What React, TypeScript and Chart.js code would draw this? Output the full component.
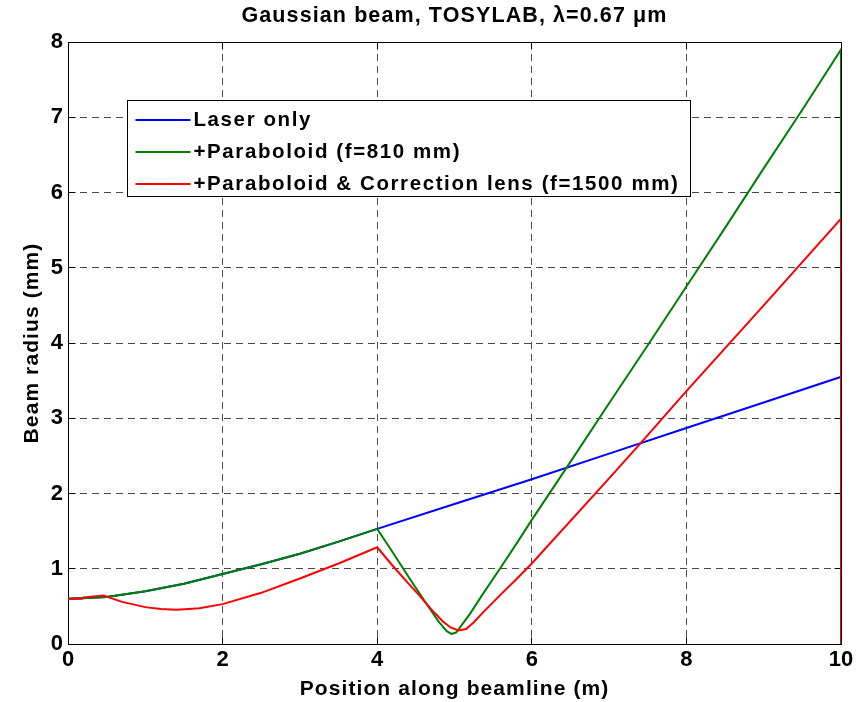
import React, { useEffect, useRef } from "react";
import { Chart, registerables } from "chart.js";

Chart.register(...registerables);

// ---- Data ----
const laserX = [0, 0.25, 0.5, 1, 1.5, 2, 2.5, 3, 3.5, 4, 5, 6, 7, 8, 9, 10, 10];
const laserY = [0.6, 0.61, 0.625, 0.7, 0.8, 0.93, 1.06, 1.2, 1.36, 1.53, 1.86, 2.19, 2.53, 2.87, 3.21, 3.55, 0];

const paraX = [0, 0.25, 0.5, 1, 1.5, 2, 2.5, 3, 3.5, 4, 4.2, 4.4, 4.6, 4.8, 4.9, 4.96, 5.02, 5.1, 5.2, 5.37, 5.6, 5.8, 6, 6.5, 7, 7.5, 8, 8.5, 9, 9.5, 10, 10];
const paraY = [0.6, 0.61, 0.625, 0.7, 0.8, 0.93, 1.06, 1.2, 1.36, 1.53, 1.22, 0.9, 0.59, 0.29, 0.17, 0.135, 0.15, 0.26, 0.4, 0.67, 1.02, 1.33, 1.65, 2.42, 3.2, 3.97, 4.75, 5.53, 6.32, 7.1, 7.9, 0];

const corrX = [0, 0.18, 0.2, 0.46, 0.7, 1.0, 1.2, 1.41, 1.7, 2, 2.5, 3, 3.5, 4, 4.2, 4.4, 4.55, 4.7, 4.85, 4.95, 5.05, 5.15, 5.25, 5.37, 5.6, 5.8, 6, 7, 7.4, 8, 9, 10, 10];
const corrY = [0.6, 0.6, 0.62, 0.645, 0.56, 0.49, 0.465, 0.455, 0.475, 0.53, 0.68, 0.87, 1.07, 1.285, 1.04, 0.81, 0.64, 0.46, 0.3, 0.22, 0.18, 0.2, 0.29, 0.42, 0.66, 0.86, 1.07, 2.2, 2.66, 3.36, 4.5, 5.65, 0];

const seriesLabels = ["Laser only", "+Paraboloid (f=810 mm)", "+Paraboloid & Correction lens (f=1500 mm)"];
const seriesColors = ["#0000ff", "#008000", "#ff0000"];

const xTicks = [0, 2, 4, 6, 8, 10];
const yTicks = [0, 1, 2, 3, 4, 5, 6, 7, 8];

const titleText = "Gaussian beam, TOSYLAB, \u03bb=0.67 \u03bcm";
const xLabel = "Position along beamline (m)";
const yLabel = "Beam radius (mm)";

const FONT = '"Liberation Sans", Arial, Helvetica, sans-serif';

const toPoints = (xs: number[], ys: number[]) => xs.map((x, i) => ({ x, y: ys[i] }));

const align = (p: number) => Math.round(p - 0.5) + 0.5;

const matlabPlugin = {
  id: "matlabStyle",
  beforeDraw(chart: any) {
    chart.ctx.letterSpacing = "1.1px";
  },
  beforeDatasetsDraw(chart: any) {
    const ctx = chart.ctx;
    ctx.letterSpacing = "0px";
    const { left, right, top, bottom } = chart.chartArea;
    const l = align(left), r = align(right), t = align(top), b = align(bottom);
    ctx.save();
    ctx.setLineDash([]);
    ctx.strokeStyle = "#000";
    ctx.lineWidth = 1;
    ctx.strokeRect(l, t, r - l, b - t);
    const xs = chart.scales.x;
    const ys = chart.scales.y;
    const tl = 7;
    ctx.beginPath();
    xs.ticks.forEach((tk: any) => {
      const px = align(xs.getPixelForValue(tk.value));
      ctx.moveTo(px, b); ctx.lineTo(px, b - tl);
      ctx.moveTo(px, t); ctx.lineTo(px, t + tl);
    });
    ys.ticks.forEach((tk: any) => {
      const py = align(ys.getPixelForValue(tk.value));
      ctx.moveTo(l, py); ctx.lineTo(l + tl, py);
      ctx.moveTo(r, py); ctx.lineTo(r - tl, py);
    });
    ctx.stroke();
    ctx.restore();
  },
  afterDraw(chart: any) {
    const ctx = chart.ctx;
    const { left, top } = chart.chartArea;
    ctx.save();
    const bx = align(left + 59);
    const by = align(top + 58.5);
    const bw = 563;
    const bh = 96;
    ctx.setLineDash([]);
    ctx.fillStyle = "#fff";
    ctx.fillRect(bx, by, bw, bh);
    ctx.strokeStyle = "#000";
    ctx.lineWidth = 1;
    ctx.strokeRect(bx, by, bw, bh);
    ctx.font = `bold 20.5px ${FONT}`;
    ctx.textBaseline = "middle";
    ctx.textAlign = "left";
    ctx.letterSpacing = "1.6px";
    chart.data.datasets.forEach((ds: any, i: number) => {
      const cy = by + 19.5 + i * 32;
      ctx.strokeStyle = ds.borderColor;
      ctx.lineWidth = 2;
      ctx.beginPath();
      ctx.moveTo(bx + 8, cy);
      ctx.lineTo(bx + 63, cy);
      ctx.stroke();
      ctx.fillStyle = "#000";
      ctx.fillText(ds.label, bx + 66, cy + 0.5);
    });
    ctx.letterSpacing = "0px";
    ctx.restore();
  },
};

export default function App() {
  const canvasRef = useRef<HTMLCanvasElement | null>(null);

  useEffect(() => {
    if (!canvasRef.current) return;
    const datasets = [
      { x: laserX, y: laserY },
      { x: paraX, y: paraY },
      { x: corrX, y: corrY },
    ].map((s, i) => ({
      label: seriesLabels[i],
      data: toPoints(s.x, s.y),
      borderColor: seriesColors[i],
      backgroundColor: seriesColors[i],
      borderWidth: 2,
      pointRadius: 0,
      tension: 0,
      fill: false,
      order: 3 - i,
    }));

    const chart = new Chart(canvasRef.current, {
      type: "line",
      data: { datasets },
      plugins: [matlabPlugin],
      options: {
        responsive: false,
        animation: false,
        devicePixelRatio: 1,
        layout: { padding: { left: 0, right: 25, top: 0, bottom: 0 } },
        plugins: {
          legend: { display: false },
          tooltip: { enabled: false },
          title: {
            display: true,
            text: titleText,
            color: "#000",
            fullSize: false,
            font: { family: FONT, size: 21.5, weight: "bold" },
            padding: { top: 3.5, bottom: 12.7 },
          },
        },
        scales: {
          x: {
            type: "linear",
            min: xTicks[0],
            max: xTicks[xTicks.length - 1],
            afterBuildTicks: (scale: any) => {
              scale.ticks = xTicks.map((v) => ({ value: v }));
            },
            afterFit: (scale: any) => {
              scale.height = 58;
            },
            grid: { color: "#4a4a4a", lineWidth: 1, drawTicks: false },
            border: { display: false, dash: [7, 5] },
            ticks: {
              z: 1,
              color: "#000",
              padding: 3,
              maxRotation: 0,
              autoSkip: false,
              font: { family: FONT, size: 22, weight: "bold" },
            },
            title: {
              display: true,
              text: xLabel,
              color: "#000",
              font: { family: FONT, size: 21, weight: "bold" },
              padding: { top: 0, bottom: 0.4 },
            },
          },
          y: {
            type: "linear",
            min: yTicks[0],
            max: yTicks[yTicks.length - 1],
            afterBuildTicks: (scale: any) => {
              scale.ticks = yTicks.map((v) => ({ value: v }));
            },
            afterFit: (scale: any) => {
              scale.width = 68;
            },
            grid: { color: "#4a4a4a", lineWidth: 1, drawTicks: false },
            border: { display: false, dash: [7, 5] },
            ticks: {
              z: 1,
              color: "#000",
              padding: 5,
              autoSkip: false,
              font: { family: FONT, size: 22, weight: "bold" },
            },
            title: {
              display: true,
              text: yLabel,
              color: "#000",
              font: { family: FONT, size: 21, weight: "bold" },
              padding: { top: 20, bottom: 0 },
            },
          },
        },
      },
    } as any);

    return () => chart.destroy();
  }, []);

  return (
    <div style={{ position: "absolute", left: 0, top: 0, width: 866, height: 702, background: "#fff" }}>
      <canvas ref={canvasRef} width={866} height={702} style={{ display: "block" }} />
    </div>
  );
}
